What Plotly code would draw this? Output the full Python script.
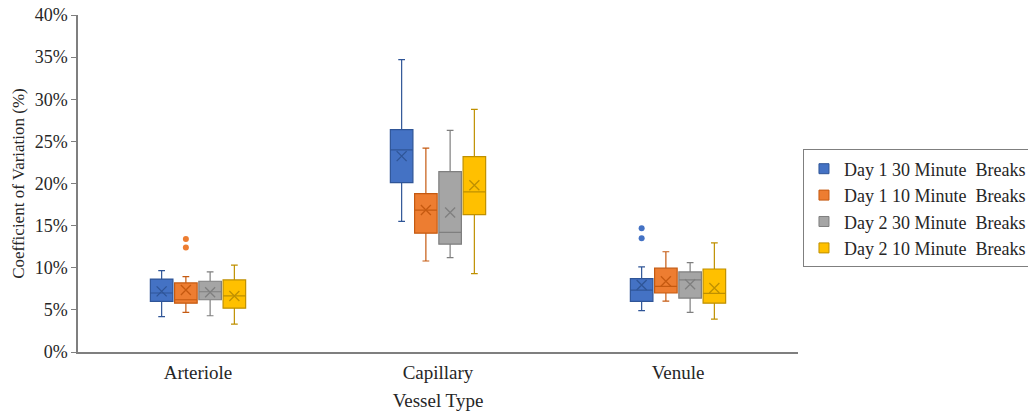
import plotly.graph_objects as go

categories = ["Arteriole", "Capillary", "Venule"]
series_names = ["Day 1 30 Minute  Breaks", "Day 1 10 Minute  Breaks",
                "Day 2 30 Minute  Breaks", "Day 2 10 Minute  Breaks"]
colors = ["#4472C4", "#ED7D31", "#A5A5A5", "#FFC000"]
edge_colors = ["#2F5597", "#C55A11", "#7F7F7F", "#BF9000"]

# per series: values for [Arteriole, Capillary, Venule]
lower = [[4.2, 15.5, 4.9], [4.7, 10.8, 6.05], [4.3, 11.2, 4.7], [3.3, 9.3, 3.9]]
q1 = [[6.0, 20.1, 6.0], [5.8, 14.1, 7.0], [6.2, 12.8, 6.4], [5.2, 16.3, 5.8]]
median = [[7.0, 24.0, 7.35], [6.2, 16.85, 7.8], [7.15, 14.2, 8.55], [6.65, 19.0, 6.95]]
q3 = [[8.65, 26.4, 8.7], [8.2, 18.8, 9.95], [8.4, 21.4, 9.5], [8.55, 23.2, 9.85]]
upper = [[9.65, 34.7, 10.1], [8.95, 24.2, 11.9], [9.5, 26.3, 10.6], [10.3, 28.8, 12.95]]
mean = [[7.2, 23.25, 7.95], [7.35, 16.85, 8.4], [7.1, 16.55, 8.05], [6.65, 19.8, 7.6]]

# outliers: (series index, category index, value)
outlier_series = [1, 1, 0, 0]
outlier_cat = [0, 0, 2, 2]
outlier_vals = [13.4, 12.4, 14.7, 13.5]

box_width = 0.094
step = 0.101

fig = go.Figure()
for i, name in enumerate(series_names):
    xs = [c + (i - 1.5) * step for c in range(len(categories))]
    fig.add_trace(go.Box(
        x=xs, q1=q1[i], median=median[i], q3=q3[i],
        lowerfence=lower[i], upperfence=upper[i],
        width=box_width, whiskerwidth=0.3,
        fillcolor=colors[i], line=dict(color=edge_colors[i], width=1.2),
        showlegend=False, hoverinfo="skip",
    ))
    fig.add_trace(go.Scatter(
        x=xs, y=mean[i], mode="markers", showlegend=False, hoverinfo="skip",
        marker=dict(symbol="x-thin-open", size=10, color=edge_colors[i],
                    line=dict(color=edge_colors[i], width=1.3)),
    ))
    ox = [outlier_cat[k] + (i - 1.5) * step for k in range(len(outlier_vals)) if outlier_series[k] == i]
    oy = [outlier_vals[k] for k in range(len(outlier_vals)) if outlier_series[k] == i]
    if ox:
        fig.add_trace(go.Scatter(
            x=ox, y=oy, mode="markers", showlegend=False, hoverinfo="skip",
            marker=dict(symbol="circle", size=6, color=colors[i]),
        ))
    fig.add_trace(go.Scatter(
        x=[None], y=[None], mode="markers", name=name,
        marker=dict(symbol="square", size=10, color=colors[i],
                    line=dict(color=edge_colors[i], width=1)),
    ))

font_family = "Liberation Serif, Times New Roman, serif"
fig.update_layout(
    width=1028, height=416,
    margin=dict(l=78, r=230, t=15, b=64, autoexpand=False),
    paper_bgcolor="white", plot_bgcolor="white",
    font=dict(family=font_family, size=16, color="#262626"),
    xaxis=dict(
        range=[-0.5, 2.5], tickvals=list(range(len(categories))), ticktext=categories,
        showline=True, linecolor="#7F7F7F", linewidth=1.5, showgrid=False,
        zeroline=False, ticks="outside", ticklen=2, tickcolor="white",
        tickfont=dict(size=19),
        title=dict(text="Vessel Type", font=dict(size=19), standoff=12),
    ),
    yaxis=dict(
        range=[0, 40], dtick=5, ticksuffix="%", showgrid=False, zeroline=False,
        showline=True, linecolor="#7F7F7F", linewidth=1.5, ticklabeloverflow="allow",
        ticks="outside", ticklen=5, tickcolor="#7F7F7F", tickfont=dict(size=18),
        title=dict(text="Coefficient of Variation (%)", font=dict(size=17), standoff=6),
    ),
    legend=dict(
        xref="container", yref="container",
        x=0.7811, y=0.4988, xanchor="left", yanchor="middle",
        bordercolor="#7F7F7F", borderwidth=1, bgcolor="white",
        font=dict(size=18, color="#262626"), tracegroupgap=0,
    ),
)

fig.write_html("out.html", config={"displayModeBar": False},
               post_script="document.body.style.margin='0';")
